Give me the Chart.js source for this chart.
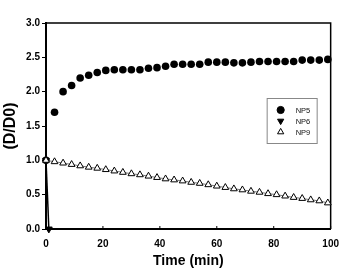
<!DOCTYPE html>
<html>
<head>
<meta charset="utf-8">
<script src="https://cdn.jsdelivr.net/npm/chart.js@4"></script>
<style>
  html, body { margin: 0; padding: 0; background: #fff; }
  #wrap { width: 348px; height: 270px; }
</style>
</head>
<body>
<div id="wrap"><canvas id="chart" width="348" height="270"></canvas></div>
<script>
// sampling times (min)
const timeNP5 = [0, 3, 6, 9, 12, 15, 18, 21, 24, 27, 30, 33, 36, 39, 42, 45, 48, 51,
  54, 57, 60, 63, 66, 69, 72, 75, 78, 81, 84, 87, 90, 93, 96, 99];
const valNP5 = [1.00, 1.70, 2.00, 2.09, 2.20, 2.24, 2.28, 2.31, 2.32, 2.32, 2.32, 2.32,
  2.34, 2.35, 2.37, 2.40, 2.40, 2.40, 2.40, 2.43, 2.43, 2.43, 2.42, 2.42, 2.43, 2.44,
  2.44, 2.44, 2.44, 2.44, 2.46, 2.46, 2.46, 2.47];

const timeNP6 = [0, 1];
const valNP6 = [1.0, 0.0];

const timeNP9 = timeNP5;
const valNP9 = [1.00, 0.98, 0.96, 0.94, 0.92, 0.90, 0.885, 0.865, 0.845, 0.825, 0.805,
  0.79, 0.77, 0.75, 0.73, 0.715, 0.70, 0.68, 0.665, 0.645, 0.625, 0.605, 0.585, 0.57,
  0.55, 0.535, 0.515, 0.50, 0.48, 0.46, 0.445, 0.425, 0.41, 0.38];

const xTicks = [0, 20, 40, 60, 80, 100];
const yTicks = [0.0, 0.5, 1.0, 1.5, 2.0, 2.5, 3.0];

const seriesNames = ['NP5', 'NP6', 'NP9'];

const toPts = (xs, ys) => xs.map((x, i) => ({ x: x, y: ys[i] }));
const FONT = "'Liberation Sans', Arial, sans-serif";

// frame on top/right plus inward ticks on the x axis
const framePlugin = {
  id: 'frame',
  beforeDatasetsDraw(chart) {
    const { ctx, chartArea: a, scales } = chart;
    ctx.save();
    ctx.strokeStyle = '#000';
    ctx.lineWidth = 1.5;
    ctx.beginPath();
    ctx.moveTo(a.left, a.top);
    ctx.lineTo(a.right, a.top);
    ctx.lineTo(a.right, a.bottom);
    ctx.stroke();
    ctx.lineWidth = 1;
    xTicks.forEach(v => {
      const px = scales.x.getPixelForValue(v);
      ctx.beginPath();
      ctx.moveTo(px, a.bottom);
      ctx.lineTo(px, a.bottom - 3);
      ctx.stroke();
    });
    ctx.restore();
  }
};

// boxed legend inside the plot
const legendPlugin = {
  id: 'boxLegend',
  afterDraw(chart) {
    const { ctx, chartArea: a } = chart;
    const left = a.right - 64, top = a.top + 75, w = 50, h = 45;
    ctx.save();
    ctx.strokeStyle = '#888';
    ctx.lineWidth = 1;
    ctx.strokeRect(left + 0.5, top + 0.5, w, h);
    ctx.font = '7.5px ' + FONT;
    ctx.fillStyle = '#111';
    ctx.textBaseline = 'middle';
    chart.data.datasets.forEach((ds, i) => {
      const y = top + 12 + i * 11;
      const mx = left + 14;
      ctx.save();
      ctx.fillStyle = ds.pointBackgroundColor;
      ctx.strokeStyle = '#000';
      ctx.lineWidth = 1;
      Chart.helpers.drawPoint(ctx, {
        pointStyle: ds.pointStyle,
        radius: 3.6,
        rotation: ds.pointRotation || 0,
        borderWidth: 1
      }, mx, y);
      ctx.restore();
      ctx.fillText(ds.label, left + 29, y + 0.5);
    });
    ctx.restore();
  }
};

new Chart('chart', {
  type: 'scatter',
  data: {
    datasets: [
      {
        label: seriesNames[0],
        data: toPts(timeNP5, valNP5),
        showLine: false,
        pointStyle: 'circle',
        pointRadius: 3.8,
        pointBackgroundColor: '#000',
        pointBorderColor: '#000',
        pointBorderWidth: 0,
        order: 3
      },
      {
        label: seriesNames[1],
        data: toPts(timeNP6, valNP6),
        showLine: true,
        borderColor: '#000',
        borderWidth: 1.5,
        pointStyle: 'triangle',
        pointRotation: 180,
        pointRadius: 3.9,
        pointBackgroundColor: '#000',
        pointBorderColor: '#000',
        pointBorderWidth: 1,
        order: 2
      },
      {
        label: seriesNames[2],
        data: toPts(timeNP9, valNP9),
        showLine: true,
        borderColor: '#555',
        borderWidth: 0.8,
        pointStyle: 'triangle',
        pointRadius: 3.9,
        pointBackgroundColor: '#fff',
        pointBorderColor: '#000',
        pointBorderWidth: 1,
        order: 1
      }
    ]
  },
  options: {
    responsive: false,
    animation: false,
    clip: false,
    layout: { padding: { top: 23, right: 13, left: 0, bottom: 0 } },
    plugins: {
      legend: { display: false },
      tooltip: { enabled: false }
    },
    scales: {
      x: {
        type: 'linear',
        min: 0,
        max: 100,
        afterBuildTicks: s => { s.ticks = xTicks.map(v => ({ value: v })); },
        afterFit: s => { s.height = 41; },
        grid: { drawOnChartArea: false, drawTicks: false },
        border: { color: '#000', width: 2 },
        ticks: {
          padding: 9,
          color: '#000',
          font: { family: FONT, size: 10, weight: 'bold' },
          callback: v => String(v)
        },
        title: {
          display: true,
          text: 'Time (min)',
          color: '#000',
          padding: 0,
          font: { family: FONT, size: 14, weight: 'bold' }
        }
      },
      y: {
        type: 'linear',
        min: 0,
        max: 3,
        afterBuildTicks: s => { s.ticks = yTicks.map(v => ({ value: v })); },
        afterFit: s => { s.width = 46; },
        grid: { drawOnChartArea: false, drawTicks: true, tickLength: 4, color: '#000', tickWidth: 1 },
        border: { color: '#000', width: 2 },
        ticks: {
          padding: 2,
          color: '#000',
          font: { family: FONT, size: 10, weight: 'bold' },
          callback: v => v.toFixed(1)
        },
        title: {
          display: true,
          text: '(D/D0)',
          color: '#000',
          padding: { top: 1, bottom: 0 },
          font: { family: FONT, size: 16, weight: 'bold' }
        }
      }
    }
  },
  plugins: [framePlugin, legendPlugin]
});
</script>
</body>
</html>
